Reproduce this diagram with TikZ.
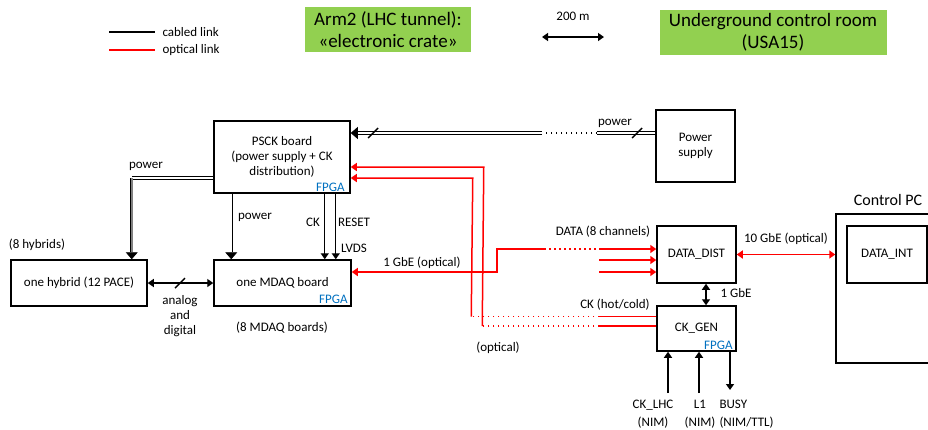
\documentclass[tikz,border=0pt]{standalone}
\usepackage{fontspec}
\setmainfont{Carlito}
\usetikzlibrary{calc,arrows.meta}
\definecolor{zonegreen}{RGB}{146,208,80}
\definecolor{fpgablue}{RGB}{0,112,192}
\definecolor{optred}{RGB}{255,0,0}

\begin{document}
\begin{tikzpicture}[x=1pt,y=-1pt,font=\fontsize{13}{15}\selectfont,
    box/.style={draw, line width=1.5pt, inner sep=0pt, align=center},
    cbl/.style={line width=1.4pt},
    opt/.style={draw=optred, line width=1.5pt},
    pwr/.style={double, line width=0.7pt, double distance=1.8pt},
    dots/.style={dash pattern=on 1.5pt off 3.5pt},
    onearrow/.style={-{Triangle[width=8pt,length=6pt]}},
    twoarrow/.style={{Triangle[width=8pt,length=6pt]}-{Triangle[width=8pt,length=6pt]}},
    bigarrow/.style={-{Triangle[width=12pt,length=7pt]}},
    fpga/.style={text=fpgablue, anchor=south east, inner sep=1pt},
    zone/.style={fill=zonegreen, align=center, inner sep=0pt, font=\fontsize{19}{22}\selectfont}]
    % page frame
    \useasboundingbox (0,0) rectangle (928,429);
    % legend
    \coordinate (lg1) at (109,32);
    \coordinate (lg2) at (155,32);
    \coordinate (lg3) at (109,50);
    \coordinate (lg4) at (155,50);
    \draw[cbl] (lg1) -- (lg2);
    \draw[opt] (lg3) -- (lg4);
    \node[anchor=west] (lgcab) at (159,32) {cabled link};
    \node[anchor=west] (lgopt) at (159,50) {optical link};
    % zones
    \node[zone, minimum width=166, minimum height=45] (tunnel) at (388,29.5) {Arm2 (LHC tunnel):\\«electronic crate»};
    \node[zone, minimum width=227, minimum height=45] (usa) at (773,32.5) {Underground control room\\(USA15)};
    % distance
    \node (dist200) at (573,16) {200 m};
    \coordinate (dl) at (542,37);
    \coordinate (dr) at (604,37);
    \draw[cbl, twoarrow] (dl) -- (dr);
    % boxes
    \node[box, minimum width=136, minimum height=72] (psck) at (282,157) {PSCK board\\(power supply + CK\\distribution)};
    \node[box, minimum width=79, minimum height=72] (supply) at (695.5,146) {Power\\supply};
    \node[box, minimum width=136, minimum height=46] (hybrid) at (79,283) {one hybrid (12 PACE)};
    \node[box, minimum width=137, minimum height=46] (mdaq) at (282.5,283) {one MDAQ board};
    \node[box, minimum width=79, minimum height=57] (dist) at (696.5,254.5) {DATA\_DIST};
    \node[box, minimum width=79, minimum height=45] (ckgen) at (696.5,328.5) {CK\_GEN};
    \node[box, minimum width=104, minimum height=149] (pc) at (888,288.5) {};
    \node[box, minimum width=80, minimum height=57] (dataint) at (887,254.5) {DATA\_INT};
    \node[font=\fontsize{16}{19}\selectfont] (pctitle) at (888,200) {Control PC};
    % FPGA tags
    \node[fpga] (psckfpga) at ($(psck.south east)+(-5,-1)$) {FPGA};
    \node[fpga] (mdaqfpga) at ($(mdaq.south east)+(-3,-2)$) {FPGA};
    \node[fpga] (ckfpga) at ($(ckgen.south east)+(-3,-1)$) {FPGA};
    % counts
    \node (nhyb) at (37,245) {(8 hybrids)};
    \node (nmdaq) at (282,328) {(8 MDAQ boards)};
    % hybrid <-> MDAQ
    \draw[cbl, twoarrow] (hybrid.east) -- (mdaq.west);
    \draw[cbl] (175,288) -- (185,278);
    \node[align=center] (anadig) at (180,316) {analog\\and\\digital};
    % power from the PSCK board
    \coordinate (pw1) at ($(psck.west)+(0,21)$);
    \coordinate (pw2) at ($(hybrid.north east)+(-16,0)$);
    \coordinate (pw3) at ($(psck.south west)+(18,0)$);
    \draw[pwr] (pw1) -- (pw1 -| pw2);
    \draw[pwr, double=gray, bigarrow] (pw1 -| pw2) -- (pw2);
    \draw[pwr, bigarrow] (pw3) -- (pw3 |- mdaq.north);
    \node (pwlab1) at (146,166) {power};
    \node (pwlab2) at (255,217) {power};
    % CK and RESET
    \coordinate (ck) at ($(psck.south east)+(-26,0)$);
    \coordinate (rst) at ($(psck.south east)+(-15,0)$);
    \draw[cbl, onearrow] (ck) -- (ck |- mdaq.north);
    \draw[cbl, onearrow] (rst) -- (rst |- mdaq.north);
    \node (cklab) at (313,222) {CK};
    \node (rstlab) at (354,222) {RESET};
    \node (lvds) at (354,248) {LVDS};
    % power supply -> PSCK board
    \coordinate (sp1) at ($(supply.west)+(0,-13)$);
    \coordinate (sp2) at (597,133);
    \coordinate (sp3) at (542,133);
    \coordinate (sp4) at ($(psck.east)+(0,-24)$);
    \draw[pwr] (sp1) -- (sp2);
    \draw[dots, line width=1.2pt] (sp2) -- (sp3);
    \draw[pwr, bigarrow] (sp3) -- (sp4);
    \draw[cbl] (632,138) -- (642,128);
    \draw[cbl] (368,138) -- (378,128);
    \node (pwlab3) at (615,123) {power};
    % 1 GbE optical: MDAQ <-> DATA_DIST
    \coordinate (ga) at ($(mdaq.east)+(0,-11)$);
    \coordinate (gb) at (497,272);
    \coordinate (gc) at (497,249);
    \coordinate (gd) at (544,249);
    \coordinate (ge) at (600,249);
    \coordinate (gf) at ($(dist.west)+(0,-5.5)$);
    \draw[opt, onearrow] (gd) -- (gc) -- (gb) -- (ga);
    \draw[opt, dots] (gd) -- (ge);
    \draw[opt, onearrow] (ge) -- (gf);
    \foreach \dy in {5.5,17.5}
        \draw[opt, onearrow] ($(dist.west)+(-57,\dy)$) -- ($(dist.west)+(0,\dy)$);
    \node (gbelab) at (422,263) {1 GbE (optical)};
    \node (datalab) at (603,232) {DATA (8 channels)};
    % CK (hot/cold): CK_GEN -> PSCK board
    \coordinate (ka1) at ($(ckgen.west)+(0,-12)$);
    \coordinate (ka2) at ($(ka1)+(-57,0)$);
    \coordinate (ka3) at ($(ka1)+(-185,0)$);
    \coordinate (ka4) at ($(psck.east)+(122,21)$);
    \coordinate (ka5) at ($(psck.east)+(0,21)$);
    \draw[opt] (ka1) -- (ka2);
    \draw[opt, dots] (ka2) -- (ka3);
    \draw[opt, onearrow] (ka3) -- (ka4) -- (ka5);
    \coordinate (kb1) at ($(ckgen.west)+(0,-2.5)$);
    \coordinate (kb2) at ($(kb1)+(-57,0)$);
    \coordinate (kb3) at ($(kb1)+(-174,0)$);
    \coordinate (kb4) at ($(psck.east)+(133,10)$);
    \coordinate (kb5) at ($(psck.east)+(0,10)$);
    \draw[opt] (kb1) -- (kb2);
    \draw[opt, dots] (kb2) -- (kb3);
    \draw[opt, onearrow] (kb3) -- (kb4) -- (kb5);
    \node (cklab2) at (615,305) {CK (hot/cold)};
    \node (optlab) at (498,348) {(optical)};
    % DATA_DIST <-> control PC, DATA_DIST <-> CK_GEN
    \draw[opt, twoarrow] (dist.east) -- (pc.west |- dist.east);
    \node (tengbe) at (786,239) {10 GbE (optical)};
    \coordinate (gbe) at ($(dist.south)+(9.5,0)$);
    \draw[cbl, twoarrow] (gbe) -- (gbe |- ckgen.north);
    \node (gbelab2) at (736,293) {1 GbE};
    % CK_GEN inputs and output
    \coordinate (cklhc) at (668,393);
    \coordinate (lone) at (699,393);
    \coordinate (busy) at (730,390);
    \draw[cbl, onearrow] (cklhc) -- (cklhc |- ckgen.south);
    \draw[cbl, onearrow] (lone) -- (lone |- ckgen.south);
    \draw[cbl, onearrow] (busy |- ckgen.south) -- (busy);
    \node[align=center, font=\fontsize{13}{18}\selectfont] (cklhclab) at (653,414) {CK\_LHC\\(NIM)};
    \node[align=center, font=\fontsize{13}{18}\selectfont] (lonelab) at (700,414) {L1\\(NIM)};
    \node[align=left, anchor=west, font=\fontsize{13}{18}\selectfont] (busylab) at (716,414) {BUSY\\(NIM/TTL)};
\end{tikzpicture}
\end{document}
